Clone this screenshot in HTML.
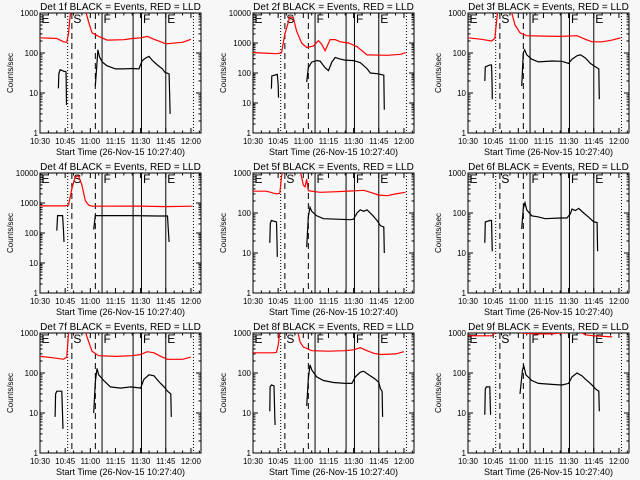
<!DOCTYPE html>
<html><head><meta charset="utf-8">
<style>
html,body{margin:0;padding:0;background:#f7f7f7;}
svg{display:block;font-family:"Liberation Sans",sans-serif;}
</style></head>
<body>
<svg id="chart" width="640" height="480" viewBox="0 0 640 480"></svg>
<script>
const detectorNames = ["1f","2f","3f","4f","5f","6f","7f","8f","9f"];
const yMaxDecades = [3,4,3,4,3,3,3,3,3];
const xTickLabels = ["10:30","10:45","11:00","11:15","11:30","11:45","12:00"];
const xTickMinutes = [0,15,30,45,60,75,90];
const dottedLines = [16.5,91.5];
const dashedLines = [19,33];
const solidLines = [37,55.5,60.5,75];
const markerLetters = ["E","S","F","F","E"];
const markerMinutes = [0,19,37,60.5,75];

const black1 = [[11,13],[11.2,30],[12,38],[13,37],[14,35],[15.5,34],[15.6,20],[15.8,5],null,[33,15],[33.5,30],[34.5,120],[35.5,80],[37,60],[40,48],[45,40],[50,40],[55,41],[59,40],[61,65],[63,75],[65,82],[67,65],[70,50],[73,40],[74.5,33],[77,30],[77.3,10],[77.6,3]];
const red1 = [[0,240],[10,230],[14,190],[16,185],[17,300],[18,900],[20,1500],null,[27,1200],[29,600],[31,320],[35,260],[40,210],[50,215],[55,230],[60,240],[64,260],[68,220],[72,190],[75,170],[85,185],[90,220]];
const black2 = [[11,30],[11.2,80],[14.5,90],[15,40],[15.2,15],null,[32,50],[33,150],[35,230],[38,260],[40,250],[43,150],[45,120],[47,230],[49,330],[52,290],[55,270],[60,260],[64,220],[68,140],[70,100],[74,95],[78,85],[78.3,6]];
const red2 = [[0,480],[10,450],[14,440],[17,470],[19,2000],[22,7500],[24,7000],[26,2500],[29,1000],[32,700],[36,800],[39,1200],[41,900],[43,550],[46,1300],[49,1300],[52,1100],[57,1000],[62,750],[68,400],[80,390],[88,420],[91,480]];
const black3 = [[10,20],[10.3,45],[13,50],[14,50],[14.3,20],[14.5,7],null,[32,15],[33,100],[33.8,120],[35,90],[38,70],[42,60],[50,63],[56,62],[60,55],[62,70],[65,85],[67,90],[70,75],[73,55],[75,48],[78,40],[78.3,7]];
const red3 = [[0,240],[8,220],[14,200],[16,230],[17,600],[18,1500],null,[25,1500],[28,500],[31,320],[35,270],[45,265],[55,260],[65,270],[70,220],[74,190],[80,190],[86,210],[91,240]];
const black4 = [[10,120],[10.5,380],[13.5,380],[14,120],[14.3,50],null,[32,130],[33,380],[55,380],[70,370],[76,370],[76.5,130],[77,50]];
const red4 = [[0,800],[15,800],[17,850],[19,3000],[21,7500],[23,8000],[25,4000],[27,1200],[29,850],[31,780],[60,790],[75,760],[91,780]];
const black5 = [[10,18],[10.3,55],[11,65],[14,60],[14.3,20],[14.5,8],null,[32,14],[33,80],[34,140],[35,110],[38,85],[42,72],[50,70],[58,68],[60,70],[62,100],[64,120],[66,110],[68,120],[71,90],[74,65],[76,48],[78,45],[78.3,10]];
const red5 = [[0,350],[8,350],[14,300],[16,310],[17,800],[18,1500],null,[28,1200],[30,500],[31,450],[32,700],[33,360],[40,330],[50,340],[58,355],[62,360],[66,370],[70,330],[75,280],[80,270],[85,300],[91,330]];
const black6 = [[10,18],[10.3,60],[13,65],[14,65],[14.3,20],[14.5,11],null,[32,40],[33,130],[34,180],[35,120],[38,85],[42,80],[46,72],[55,75],[59,75],[61,95],[62,125],[64,115],[66,130],[69,100],[72,78],[75,60],[77,58],[77.3,11]];
const red6 = [];
const black7 = [[9,8],[9.3,30],[10,35],[13,35],[13.5,8],[13.7,4],null,[32,10],[33,60],[34,130],[35,90],[38,65],[42,45],[48,42],[54,45],[60,42],[62,70],[65,90],[68,85],[71,60],[74,45],[76,35],[78,30],[78.3,8]];
const red7 = [[0,260],[8,240],[14,220],[16,250],[17,1000],[18,1500],null,[26,1500],[28,800],[31,350],[35,270],[45,260],[55,270],[60,290],[64,340],[68,320],[72,260],[76,220],[85,220],[90,250]];
const black8 = [[10,11],[10.2,45],[11,50],[12.5,48],[13,8],[13.2,5],null,[32,15],[33,70],[34,160],[35,120],[38,80],[42,65],[48,58],[55,55],[59,55],[61,80],[64,105],[66,110],[69,90],[73,70],[75,58],[76,40],[77,35],[77.3,8]];
const red8 = [[0,320],[12,320],[14,330],[15,500],[16,1000],[17,1500],null,[26,1500],[28,600],[30,450],[35,360],[45,350],[55,360],[60,380],[64,430],[68,360],[72,310],[76,290],[85,300],[90,340]];
const black9 = [[10,9],[10.3,40],[11,45],[13,45],[13.3,15],[13.5,9],null,[31,30],[32.5,120],[33.3,150],[34.5,90],[38,65],[42,55],[50,52],[56,50],[60,55],[62,80],[65,100],[68,85],[70,70],[73,55],[75,45],[76,40],[78,35],[78.3,11]];
const red9 = [[0,850],[14,850],[16,1000],[20,1300],null,[30,1300],[32,1000],[40,950],[50,950],[55,1000],[62,1050],[66,1100],[70,900],[75,850],[86,800]];
const blackSeries = [black1,black2,black3,black4,black5,black6,black7,black8,black9];
const redSeries = [red1,red2,red3,red4,red5,red6,red7,red8,red9];

const NS = "http://www.w3.org/2000/svg";
const svg = document.getElementById("chart");
const colLeft = [40,253,468], rowTop = [13,173,333], PW = 161, PH = 120, XMAX = 96;
function mk(tag, attrs, parent){const e=document.createElementNS(NS,tag);for(const k in attrs)e.setAttribute(k,attrs[k]);(parent||svg).appendChild(e);return e;}
const defs = mk("defs",{});

for(let p=0;p<9;p++){
  const L=colLeft[p%3], T=rowTop[Math.floor(p/3)], dec=yMaxDecades[p];
  const xs = m => L + m/XMAX*PW;
  const ys = v => T + PH - Math.log10(v)/dec*PH;
  const g = mk("g",{});
  
  
  const cp = mk("clipPath",{id:"c"+p},defs);
  mk("rect",{x:L,y:T,width:PW,height:PH},cp);
  const t = mk("text",{x:L+PW/2,y:T-3,"text-anchor":"middle","font-size":"10"},g);
  t.textContent = "Det "+detectorNames[p]+" BLACK = Events, RED = LLD";
  
  
  const yl = mk("text",{x:0,y:0,"text-anchor":"middle","font-size":"8",transform:`translate(${L-27},${T+PH/2}) rotate(-90)`},g);
  yl.textContent = "Counts/sec";
  
  
  const xt = mk("text",{x:L+PW/2,y:T+PH+22,"text-anchor":"middle","font-size":"9"},g);
  xt.textContent = "Start Time (26-Nov-15 10:27:40)";
  
  
  const box = mk("rect",{x:L,y:T,width:PW,height:PH,fill:"none",stroke:"#000","stroke-width":"1"},g);
  
  
  for(let d=0; d<=dec; d++){
    const v=Math.pow(10,d), y=ys(v);
    mk("line",{x1:L,x2:L+5,y1:y,y2:y,stroke:"#000"},g);
    mk("line",{x1:L+PW-5,x2:L+PW,y1:y,y2:y,stroke:"#000"},g);
    const lb = mk("text",{x:L-2,y:y+3,"text-anchor":"end","font-size":"8"},g);
    lb.textContent = String(v);
    
    
    if(d<dec) for(let k=2;k<10;k++){const yy=ys(v*k);
      mk("line",{x1:L,x2:L+2.5,y1:yy,y2:yy,stroke:"#000"},g);
      mk("line",{x1:L+PW-2.5,x2:L+PW,y1:yy,y2:yy,stroke:"#000"},g);}
  }
  xTickMinutes.forEach((m,i)=>{
    const x=xs(m);
    mk("line",{x1:x,x2:x,y1:T+PH,y2:T+PH-5,stroke:"#000"},g);
    mk("line",{x1:x,x2:x,y1:T,y2:T+5,stroke:"#000"},g);
    const lb = mk("text",{x:x,y:T+PH+11,"text-anchor":"middle","font-size":"8"},g);
    lb.textContent = xTickLabels[i];
    
    
  });
  for(let m=5;m<XMAX;m+=5){ if(m%15===0) continue; const x=xs(m);
    mk("line",{x1:x,x2:x,y1:T+PH,y2:T+PH-2.5,stroke:"#000"},g);
    mk("line",{x1:x,x2:x,y1:T,y2:T+2.5,stroke:"#000"},g);}
  dottedLines.forEach(m=>{const l=mk("line",{x1:xs(m),x2:xs(m),y1:T,y2:T+PH,stroke:"#000","stroke-dasharray":"1,2"},g);
    });
  dashedLines.forEach(m=>{const l=mk("line",{x1:xs(m),x2:xs(m),y1:T,y2:T+PH,stroke:"#000","stroke-dasharray":"6,4"},g);
    });
  solidLines.forEach(m=>{const l=mk("line",{x1:xs(m),x2:xs(m),y1:T,y2:T+PH,stroke:"#000"},g);
    });
  markerLetters.forEach((s,i)=>{const tx=mk("text",{x:xs(markerMinutes[i])+1.5,y:T+10,"font-size":"12"},g);
    tx.textContent=s;
    
    });
  const drawSeries=(arr,color,name)=>{
    if(!arr.length) return;
    let d="", pen=false;
    arr.forEach(pt=>{ if(!pt){pen=false;return;}
      d += (pen?"L":"M")+xs(pt[0]).toFixed(1)+","+ys(pt[1]).toFixed(1); pen=true;});
    const pth = mk("path",{d:d,fill:"none",stroke:color,"stroke-width":"1.2","clip-path":`url(#c${p})`},g);
    
    
  };
  drawSeries(redSeries[p],"#ff0000","lld-series-red");
  drawSeries(blackSeries[p],"#000","events-series-black");
}
</script>
</body></html>
